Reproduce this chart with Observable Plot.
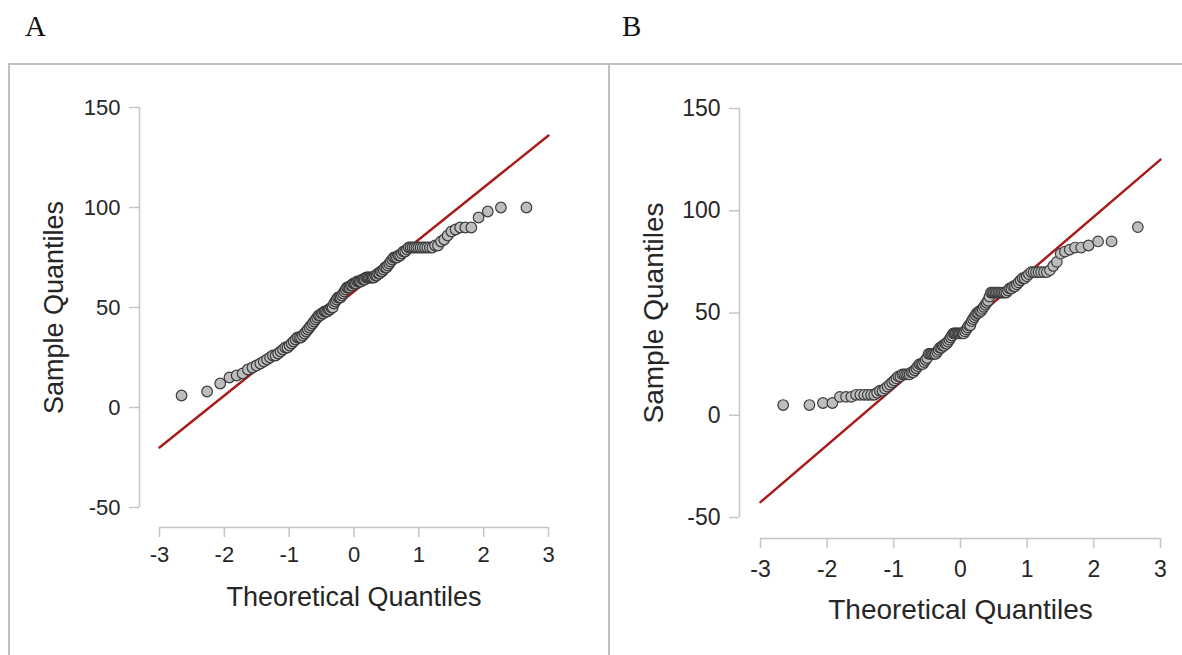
<!DOCTYPE html>
<html><head><meta charset="utf-8">
<script src="https://cdn.jsdelivr.net/npm/d3@7"></script>
<script src="https://cdn.jsdelivr.net/npm/@observablehq/plot@0.6"></script>
<style>
html,body{margin:0;padding:0;background:#fff;}
#root{position:relative;width:1182px;height:655px;overflow:hidden;font-family:"Liberation Sans",Arial,sans-serif;}
.tag{position:absolute;font-family:"Liberation Serif","Times New Roman",serif;font-size:29px;line-height:29px;color:#111;}
.box{position:absolute;border:2px solid #c0c0c0;box-sizing:border-box;}
.panel{position:absolute;}
</style></head><body>
<div id="root">
  <div class="tag" style="left:25px;top:12px;">A</div>
  <div class="tag" style="left:622px;top:12px;">B</div>
  <div class="box" style="left:8px;top:63px;width:602px;height:700px;"></div>
  <div class="box" style="left:608px;top:63px;width:620px;height:700px;"></div>
  <div class="panel" id="pA" style="left:9px;top:65px;"></div>
  <div class="panel" id="pB" style="left:609px;top:65px;"></div>
</div>
<script>
// tick labels
const xTicks = [-3, -2, -1, 0, 1, 2, 3];
const yTicks = [-50, 0, 50, 100, 150];
const xTitle = "Theoretical Quantiles";
const yTitle = "Sample Quantiles";

// Panel A: sorted sample values (n = 128)
const sampleA = [
  6, 8, 12, 15, 16, 17, 19, 20, 21, 22,
  23, 24, 25, 26, 26, 27, 28, 29, 30, 30,
  31, 32, 33, 34, 35, 35, 35, 36, 37, 38,
  39, 40, 41, 42, 43, 44, 45, 46, 46, 47,
  47, 48, 48, 48, 49, 49, 50, 50, 52, 53,
  54, 55, 55, 55, 56, 57, 58, 59, 60, 60,
  60, 61, 61, 62, 62, 62, 63, 63, 63, 63,
  64, 64, 64, 65, 65, 65, 65, 65, 65, 65,
  66, 66, 67, 67, 68, 68, 69, 70, 70, 71,
  72, 73, 74, 75, 75, 75, 76, 76, 77, 78,
  78, 79, 80, 80, 80, 80, 80, 80, 80, 80,
  80, 80, 80, 80, 81, 81, 83, 84, 86, 88,
  89, 90, 90, 90, 95, 98, 100, 100
];
// Panel B: sorted sample values (n = 128)
const sampleB = [
  5, 5, 6, 6, 9, 9, 9, 10, 10, 10,
  10, 10, 10, 11, 12, 12, 13, 14, 15, 16,
  17, 18, 19, 19, 20, 20, 20, 20, 20, 21,
  21, 22, 23, 24, 25, 25, 25, 26, 27, 28,
  30, 30, 30, 30, 30, 30, 31, 32, 33, 33,
  34, 34, 35, 35, 36, 37, 38, 39, 40, 40,
  40, 40, 40, 40, 40, 40, 40, 41, 42, 43,
  44, 44, 46, 47, 48, 49, 50, 50, 51, 51,
  52, 53, 54, 55, 56, 58, 60, 60, 60, 60,
  60, 60, 60, 60, 60, 60, 60, 61, 62, 62,
  63, 63, 64, 65, 66, 67, 67, 68, 69, 70,
  70, 70, 70, 70, 70, 70, 71, 73, 75, 79,
  80, 81, 82, 82, 83, 85, 85, 92
];
// reference lines (endpoints)
const lineAx = [-3, 3], lineAy = [-20, 136];
const lineBx = [-3, 3], lineBy = [-42.5, 125];

// inverse standard normal CDF (Acklam) for the QQ transform
function qnorm(p) {
  const a=[-3.969683028665376e+01,2.209460984245205e+02,-2.759285104469687e+02,1.383577518672690e+02,-3.066479806614716e+01,2.506628277459239e+00];
  const b=[-5.447609879822406e+01,1.615858368580409e+02,-1.556989798598866e+02,6.680131188771972e+01,-1.328068155211578e+01];
  const c=[-7.784894002430293e-03,-3.223964580411365e-01,-2.400758277161838e+00,-2.549732539343734e+00,4.374664141464968e+00,2.938163982698783e+00];
  const d=[7.784695709041462e-03,3.224671290700398e-01,2.445134137142996e+00,3.754408661907416e+00];
  const pl = 0.02425, ph = 1 - pl;
  let q, r;
  if (p < pl) { q = Math.sqrt(-2*Math.log(p)); return (((((c[0]*q+c[1])*q+c[2])*q+c[3])*q+c[4])*q+c[5])/((((d[0]*q+d[1])*q+d[2])*q+d[3])*q+1); }
  if (p <= ph) { q = p-0.5; r = q*q; return (((((a[0]*r+a[1])*r+a[2])*r+a[3])*r+a[4])*r+a[5])*q/(((((b[0]*r+b[1])*r+b[2])*r+b[3])*r+b[4])*r+1); }
  q = Math.sqrt(-2*Math.log(1-p)); return -(((((c[0]*q+c[1])*q+c[2])*q+c[3])*q+c[4])*q+c[5])/((((d[0]*q+d[1])*q+d[2])*q+d[3])*q+1);
}
function qq(sample) {
  const s = [...sample].sort((u, v) => u - v), n = s.length;
  return s.map((v, i) => ({x: qnorm((i + 0.5) / n), y: v}));
}
const toLine = (xs, ys) => xs.map((x, i) => ({x, y: ys[i]}));

function panel(o) {
  const x0 = xTicks[0], x1 = xTicks[xTicks.length - 1];
  const y0 = yTicks[0], y1 = yTicks[yTicks.length - 1];
  const axisGray = "#c4c4c4", textCol = "#262626";
  return Plot.plot({
    width: o.width, height: o.height,
    marginLeft: o.mL, marginRight: o.mR, marginTop: o.mT, marginBottom: o.mB,
    x: {domain: [x0, x1], axis: null},
    y: {domain: [y0, y1], axis: null},
    style: {fontFamily: "'Liberation Sans', Arial, sans-serif", background: "transparent", overflow: "visible"},
    marks: [
      Plot.ruleX([x0], {y1: y0, y2: y1, dx: -o.gap, stroke: axisGray, strokeWidth: 1.5}),
      Plot.axisY(yTicks, {anchor: "left", dx: -o.gap, tickSize: 10, tickPadding: 9, stroke: axisGray, strokeWidth: 1.5, fill: textCol, fontSize: o.tickFont, label: null, tickFormat: d => String(d)}),
      Plot.ruleY([y0], {x1: x0, x2: x1, dy: o.gap, stroke: axisGray, strokeWidth: 1.5}),
      Plot.axisX(xTicks, {anchor: "bottom", dy: o.gap, tickSize: 10, tickPadding: o.xPad, stroke: axisGray, strokeWidth: 1.5, fill: textCol, fontSize: o.tickFont, label: null, tickFormat: d => String(d)}),
      Plot.line(o.line, {x: "x", y: "y", stroke: "#a81c1c", strokeWidth: 2.5}),
      Plot.dot(qq(o.sample), {x: "x", y: "y", r: 5.3, fill: "#bdbdbd", stroke: "#3c3c3c", strokeWidth: 1.2}),
      Plot.text([xTitle], {frameAnchor: "bottom", textAnchor: "middle", lineAnchor: "middle", dy: o.titleDy, fontSize: o.titleFont, fill: textCol}),
      Plot.text([yTitle], {frameAnchor: "left", textAnchor: "middle", rotate: -90, lineAnchor: "middle", dx: o.labelDx, fontSize: o.titleFont, fill: textCol})
    ]
  });
}

document.getElementById("pA").append(panel({
  width: 599, height: 590, mL: 150, mR: 60, mT: 42, mB: 148, gap: 20, xPad: 9,
  tickFont: 22, titleFont: 27, titleDy: 90, labelDx: -105,
  sample: sampleA, line: toLine(lineAx, lineAy)
}));
document.getElementById("pB").append(panel({
  width: 573, height: 590, mL: 151, mR: 22, mT: 43, mB: 138, gap: 21, xPad: 12,
  tickFont: 23, titleFont: 28, titleDy: 93, labelDx: -106,
  sample: sampleB, line: toLine(lineBx, lineBy)
}));
</script>
</body></html>
